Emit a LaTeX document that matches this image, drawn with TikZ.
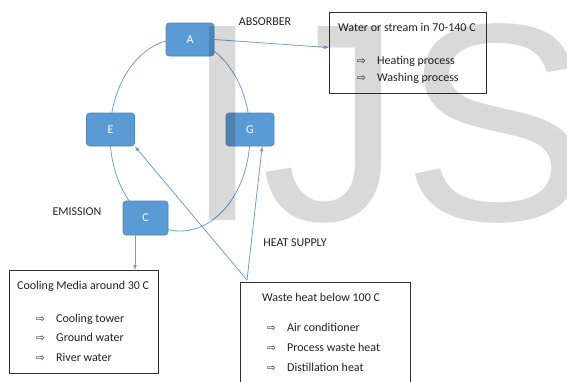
\documentclass[tikz,border=0pt]{standalone}
\usepackage{fontspec}
\setmainfont{Carlito}
\newfontfamily\symfont{DejaVu Sans}
\newfontfamily\wmfont{Liberation Sans}
\usetikzlibrary{arrows.meta}
\definecolor{nodeblue}{HTML}{5B9BD5}
\definecolor{nodeedge}{HTML}{4A86C0}
\definecolor{linkblue}{HTML}{6FA0D2}
\definecolor{boxline}{HTML}{303030}
\definecolor{txt}{HTML}{222222}
\begin{document}
\begin{tikzpicture}[x=1pt,y=-1pt,
 stage/.style={draw=nodeedge, fill=nodeblue, rounded corners=3pt, minimum width=48pt, minimum height=33pt, text=white, font=\fontsize{12}{14}\selectfont, inner sep=0pt, line width=0.6pt},
 infobox/.style={draw=boxline, line width=1.2pt, inner sep=0pt, anchor=north west},
 txtline/.style={anchor=base west, inner sep=0pt, text=txt, font=\fontsize{12}{14}\selectfont},
 bullet/.style={anchor=base west, inner sep=0pt, text=txt, font=\symfont\fontsize{10.5}{11}\selectfont},
 tag/.style={inner sep=0pt, text=txt, font=\fontsize{12}{14}\selectfont},
 link/.style={draw=linkblue, line width=0.8pt},
 flow/.style={link, -{Latex[length=5pt,width=4pt]}},
]
\useasboundingbox (0,0) rectangle (567,381);
\fill[white] (0,0) rectangle (567,381);
\begin{scope}
\clip (0,0) rectangle (567,381);
% cycle
\draw[link] (180,135) ellipse [x radius=70, y radius=96];
\node[stage] (A) at (190,39.5) {A};
\node[stage] (E) at (110.5,129.5) {E};
\node[stage] (G) at (250,129.5) {G};
\node[stage, minimum width=45pt, minimum height=34pt] (C) at (145.5,218) {C};
% boxes
\node[infobox, minimum width=157pt, minimum height=81pt] (hot) at (329,12) {};
\node[infobox, minimum width=149pt, minimum height=103pt] (cool) at (9,270) {};
\node[infobox, minimum width=170pt, minimum height=110pt] (waste) at (240,282) {};
% box texts
\node[txtline] (hotT) at (338,31) {Water or stream in 70-140 C};
\node[bullet] (hotB1) at (357,64) {⇨};
\node[txtline] (hotI1) at (377,64) {Heating process};
\node[bullet] (hotB2) at (357,81) {⇨};
\node[txtline] (hotI2) at (377,81) {Washing process};
\node[txtline] (coolT) at (17,289) {Cooling Media around 30 C};
\node[bullet] (coolB1) at (36,322) {⇨};
\node[txtline] (coolI1) at (56,322) {Cooling tower};
\node[bullet] (coolB2) at (36,341) {⇨};
\node[txtline] (coolI2) at (56,341) {Ground water};
\node[bullet] (coolB3) at (36,361) {⇨};
\node[txtline] (coolI3) at (56,361) {River water};
\node[txtline] (wasteT) at (262,301) {Waste heat below 100 C};
\node[bullet] (wasteB1) at (267,331) {⇨};
\node[txtline] (wasteI1) at (287,331) {Air conditioner};
\node[bullet] (wasteB2) at (267,351) {⇨};
\node[txtline] (wasteI2) at (287,351) {Process waste heat};
\node[bullet] (wasteB3) at (267,371) {⇨};
\node[txtline] (wasteI3) at (287,371) {Distillation heat};
% labels
\node[tag] (absorber) at (265,22) {ABSORBER};
\node[tag] (emission) at (77,212) {EMISSION};
\node[tag] (heatsupply) at (295,243) {HEAT SUPPLY};
% connectors
\draw[flow] (A.east) -- (hot.176);
\draw[flow] ([xshift=-10.5pt]C.south) -- ([xshift=-10.5pt]C.south |- cool.north);
\coordinate (hs) at ([xshift=7pt,yshift=2pt]waste.north west);
\draw[flow] (hs) -- (E.south east);
\draw[flow] (hs) -- (G.-54);
% watermark
\node[anchor=base west, inner sep=0pt, text=black, text opacity=0.15, font=\wmfont\fontsize{282}{282}\selectfont] (wm) at (183,220) {IJS};
\end{scope}
\end{tikzpicture}
\end{document}
